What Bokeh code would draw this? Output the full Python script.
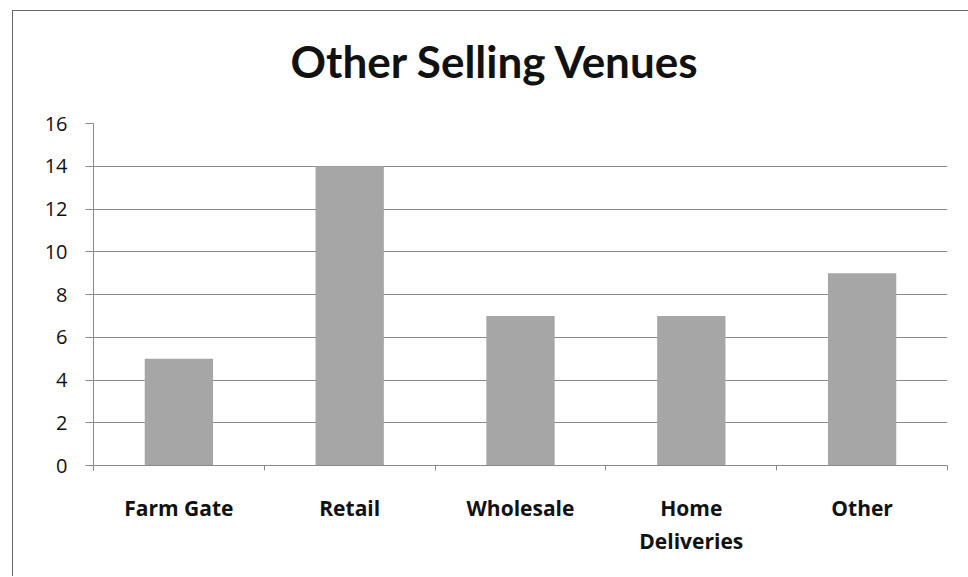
from bokeh.plotting import figure
from bokeh.models import Range1d, FixedTicker
from bokeh.embed import file_html
from bokeh.resources import INLINE

categories = ["Farm Gate", "Retail", "Wholesale", "Home Deliveries", "Other"]
category_labels = ["Farm Gate", "Retail", "Wholesale", "Home\nDeliveries", "Other"]
values = [5, 14, 7, 7, 9]
y_ticks = [0, 2, 4, 6, 8, 10, 12, 14, 16]
title_text = "Other Selling Venues"

positions = [i + 0.5 for i in range(len(categories))]
boundaries = list(range(len(categories) + 1))

GRID = "#8a8a8a"
BAR = "#a6a6a6"

p = figure(width=956, height=576, output_backend="svg", toolbar_location=None,
           x_range=Range1d(0, len(categories)), y_range=Range1d(y_ticks[0], y_ticks[-1]),
           min_border_left=81, min_border_right=21, min_border_bottom=111, min_border_top=100)

p.title.text = title_text
p.title.align = "left"
p.title.vertical_align = "top"
p.title.offset = 197
p.title.text_font = "Lato"
p.title.text_font_style = "bold"
p.title.text_font_size = "44px"
p.title.text_color = "#111111"
p.title.standoff = 69

p.vbar(x=positions, top=values, width=0.4, bottom=0, fill_color=BAR, line_color=None)

p.outline_line_color = None
p.background_fill_color = "white"
p.border_fill_color = None
p.xgrid.visible = False
p.ygrid.grid_line_color = GRID
p.ygrid.grid_line_width = 1
p.ygrid.ticker = FixedTicker(ticks=y_ticks)

ya = p.yaxis[0]
ya.ticker = FixedTicker(ticks=y_ticks)
ya.axis_line_color = GRID
ya.major_tick_line_color = GRID
ya.major_tick_out = 8
ya.major_tick_in = 0
ya.minor_tick_line_color = None
ya.major_label_text_font = "Open Sans"
ya.major_label_text_font_size = "20px"
ya.major_label_text_color = "#111111"
ya.major_label_standoff = 18

xa = p.xaxis[0]
xa.ticker = FixedTicker(ticks=positions, minor_ticks=boundaries)
xa.major_label_overrides = {pos: lab for pos, lab in zip(positions, category_labels)}
xa.axis_line_color = GRID
xa.major_tick_line_color = None
xa.major_tick_out = 0
xa.major_tick_in = 0
xa.minor_tick_line_color = GRID
xa.minor_tick_out = 5
xa.minor_tick_in = 0
xa.major_label_text_font = "Open Sans"
xa.major_label_text_font_style = "bold"
xa.major_label_text_font_size = "21px"
xa.major_label_text_color = "#111111"
xa.major_label_standoff = 23

p.styles = {
    "margin-left": "12px",
    "margin-top": "0px",
    "background": "linear-gradient(#666666, #666666) 0px 10px / 100% 1px no-repeat, "
                  "linear-gradient(#666666, #666666) 0px 10px / 1px 100% no-repeat, #ffffff",
}

open("out.html", "w").write(file_html(p, INLINE))
